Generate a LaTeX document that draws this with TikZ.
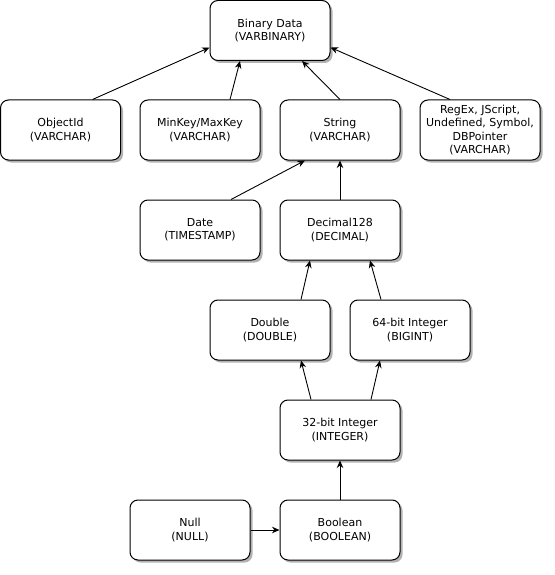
\documentclass[tikz,border=0pt]{standalone}
\usepackage{fontspec}
\setmainfont{DejaVu Sans}
\usetikzlibrary{arrows.meta,shadows}

\begin{document}
\begin{tikzpicture}[x=1pt, y=-1pt,
      datatype/.style ={rectangle, draw, line width=1pt, rounded corners=8pt, fill=white,
        minimum width=120pt, minimum height=60pt, inner sep=2pt, align=center,
        font=\fontsize{11}{13.3}\selectfont,
        drop shadow={shadow xshift=2.5pt, shadow yshift=-2.5pt, fill=black, opacity=0.3}},
      cast/.style ={draw, line width=0.9pt, -{Stealth[length=7.5pt, width=6.5pt]}}]
   \useasboundingbox (0,0) rectangle (554,575);

   \node[datatype] (bin)  at (270,30.5)  {Binary Data\\(VARBINARY)};

   \node[datatype] (obj)  at (60.5,130)  {ObjectId\\(VARCHAR)};
   \node[datatype] (minmax)  at (200,130)  {MinKey/MaxKey\\(VARCHAR)};
   \node[datatype] (str)  at (340,130)  {String\\(VARCHAR)};
   \node[datatype] (misc)  at (480,130)  {RegEx, JScript,\\Undefined, Symbol,\\DBPointer\\(VARCHAR)};

   \node[datatype] (date)  at (200,230)  {Date\\(TIMESTAMP)};
   \node[datatype] (dec)  at (340,230)  {Decimal128\\(DECIMAL)};

   \node[datatype] (dbl)  at (270,330)  {Double\\(DOUBLE)};
   \node[datatype] (bigint)  at (410,330)  {64-bit Integer\\(BIGINT)};

   \node[datatype] (int)  at (340,430)  {32-bit Integer\\(INTEGER)};

   \node[datatype] (null)  at (190,530)  {Null\\(NULL)};
   \node[datatype] (bool)  at (340,530)  {Boolean\\(BOOLEAN)};


   \draw[cast] ([xshift=32pt]obj.north) to  ([yshift=-17pt]bin.west);
   \draw[cast] ([xshift=30pt]minmax.north) to  ([xshift=-30pt]bin.south);
   \draw[cast] (str.north) to  ([xshift=32pt]bin.south);
   \draw[cast] ([xshift=-30pt]misc.north) to  ([yshift=-17pt]bin.east);

   \draw[cast] ([xshift=31pt]date.north) to  ([xshift=-35pt]str.south);
   \draw[cast] (dec.north) to  (str.south);

   \draw[cast] ([xshift=31pt]dbl.north) to  ([xshift=-30pt]dec.south);
   \draw[cast] ([xshift=-29pt]bigint.north) to  ([xshift=30pt]dec.south);

   \draw[cast] ([xshift=-29pt]int.north) to  ([xshift=31pt]dbl.south);
   \draw[cast] ([xshift=31pt]int.north) to  ([xshift=-30pt]bigint.south);

   \draw[cast] (bool.north) to  (int.south);
   \draw[cast] (null.east) to  (bool.west);

 \end{tikzpicture}
\end{document}
